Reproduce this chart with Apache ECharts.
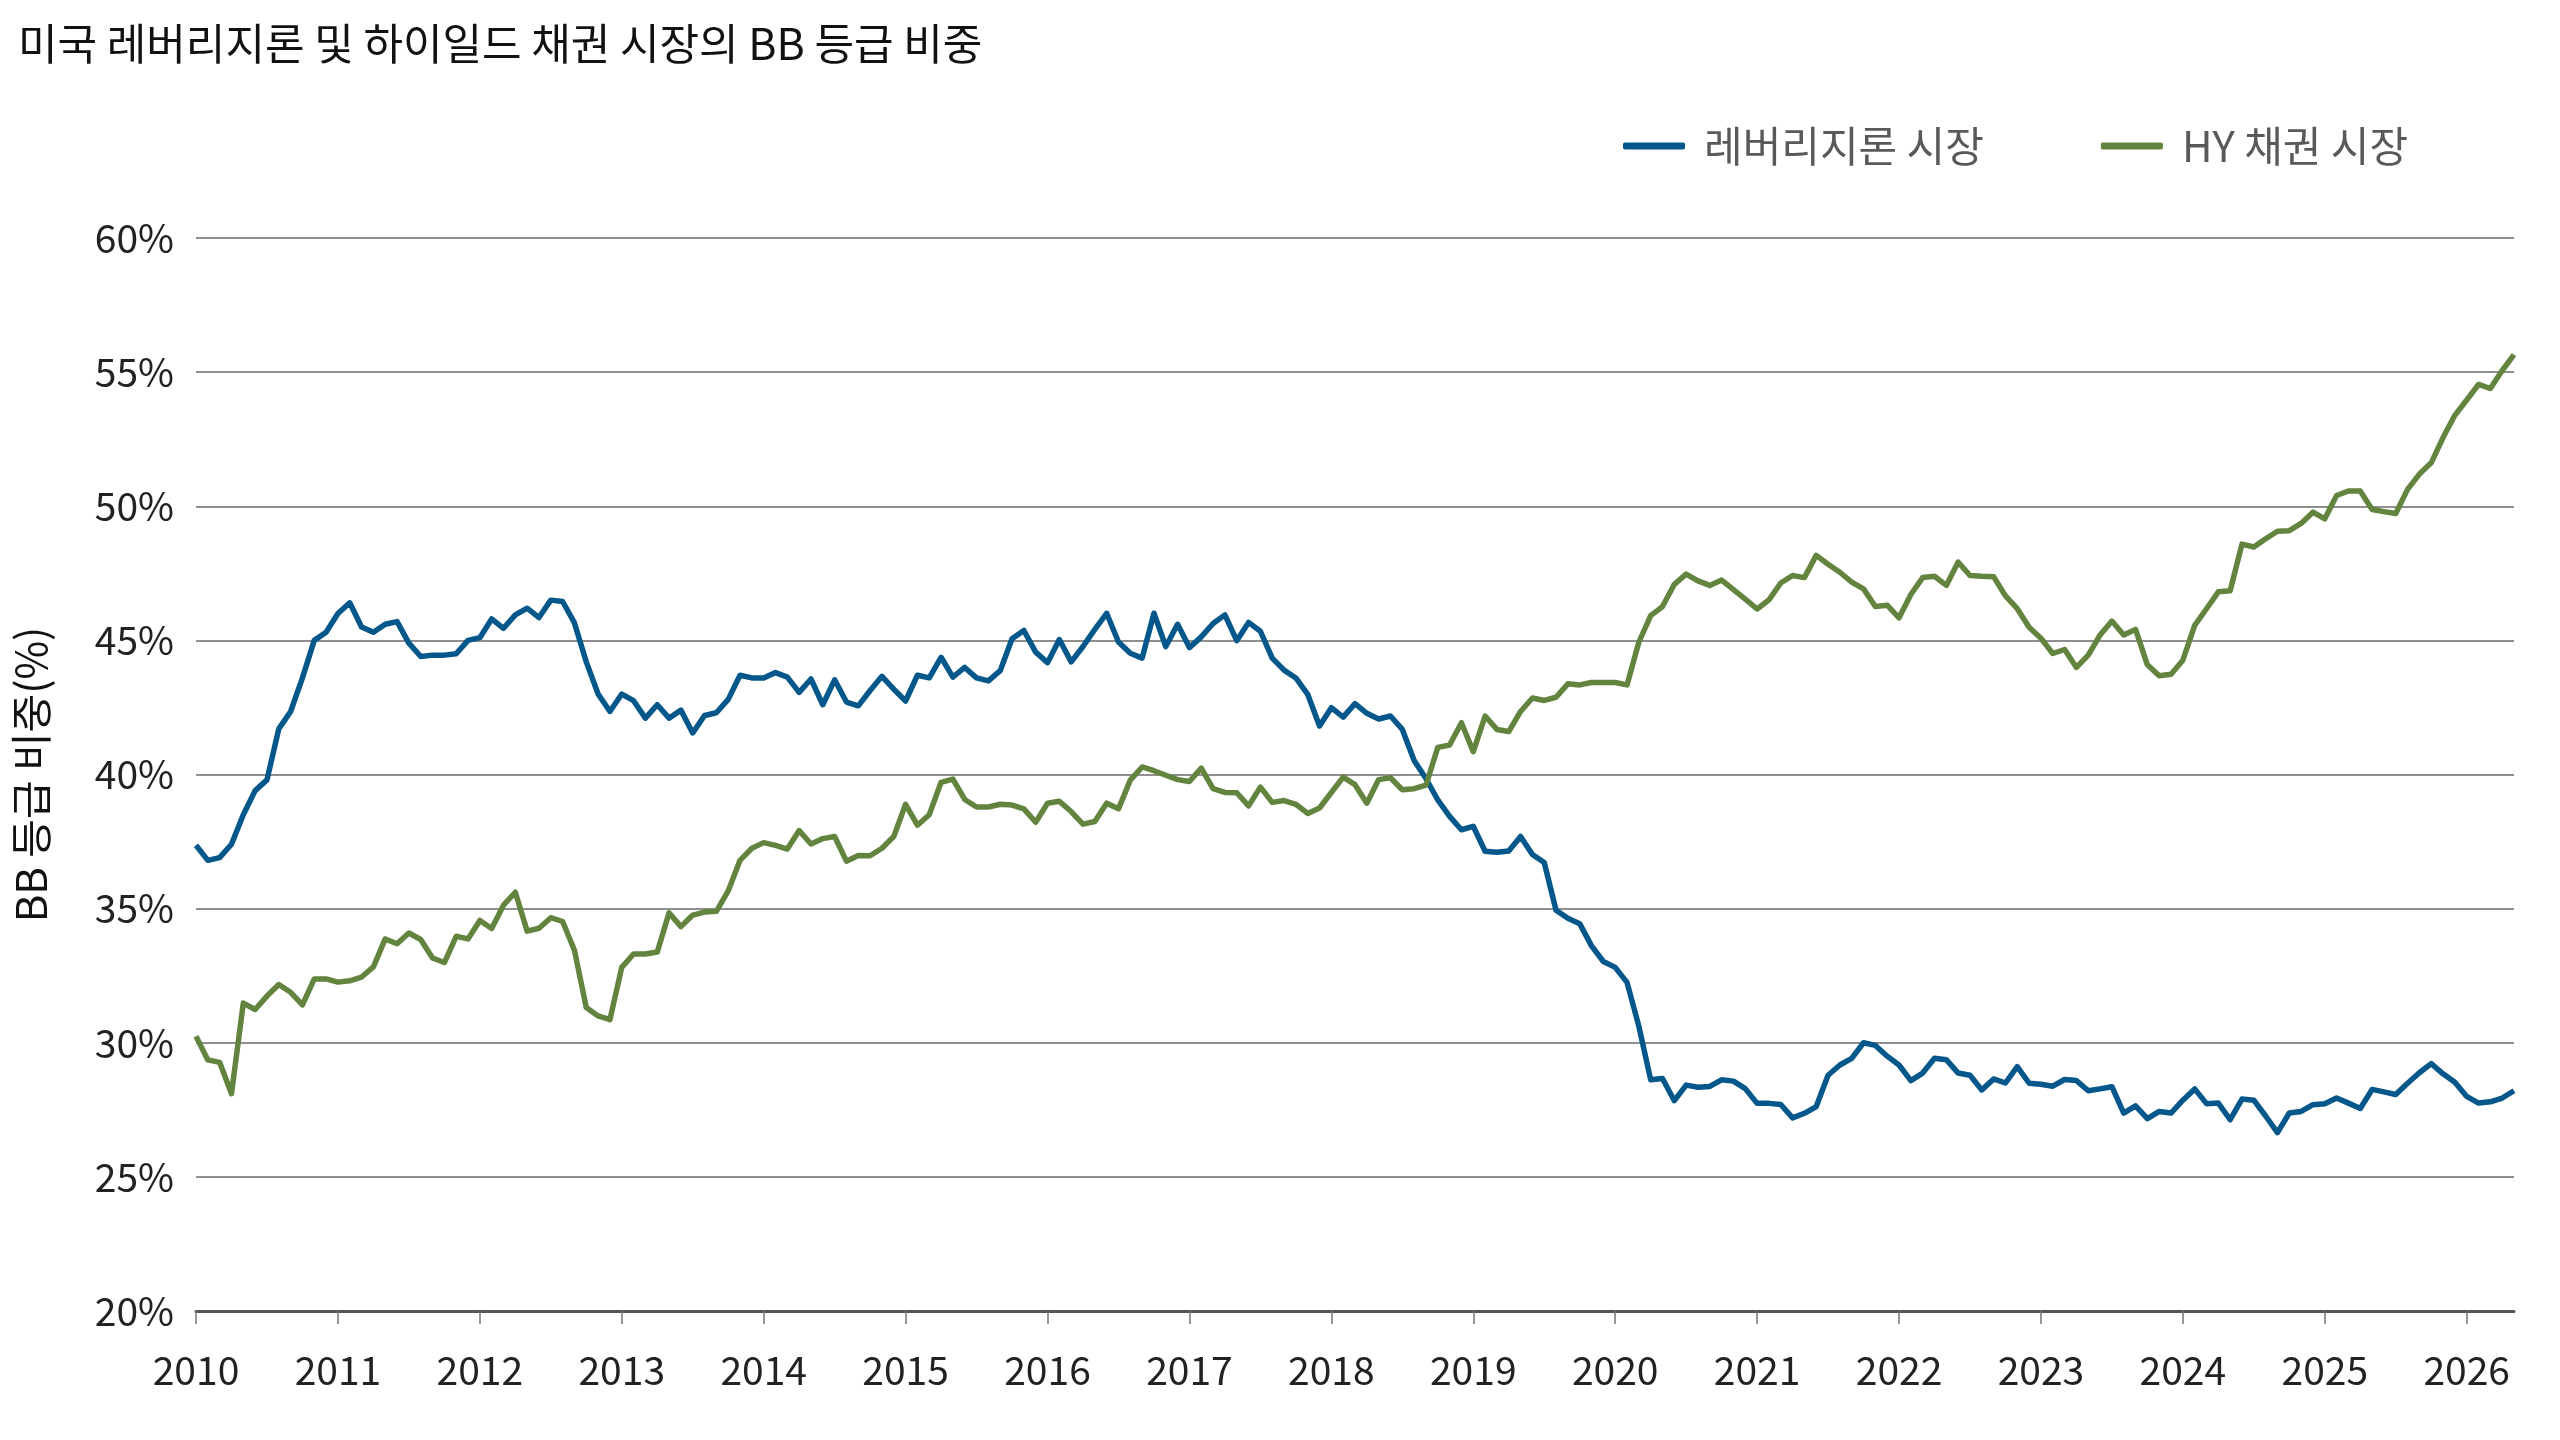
<!DOCTYPE html>
<html>
<head>
<meta charset="utf-8">
<script src="https://cdn.jsdelivr.net/npm/echarts@6/dist/echarts.min.js"></script>
<style>
html,body{margin:0;padding:0;background:#fff;}
#chart{width:2560px;height:1440px;}
</style>
</head>
<body>
<div id="chart"></div>
<script>
// Monthly observations, Jan 2010 onward
const startYear = 2010;
const leveragedLoan = [
 37.36, 36.8, 36.9, 37.4, 38.5, 39.4, 39.8, 41.7, 42.35, 43.6,
 45.0, 45.3, 46.0, 46.4, 45.5, 45.3, 45.6, 45.7, 44.9, 44.4,
 44.45, 44.45, 44.5, 45.0, 45.1, 45.8, 45.45, 45.95, 46.2, 45.85,
 46.5, 46.45, 45.65, 44.2, 43.0, 42.35, 43.0, 42.75, 42.1, 42.6,
 42.1, 42.4, 41.55, 42.2, 42.3, 42.8, 43.7, 43.6, 43.6, 43.8,
 43.63, 43.06, 43.56, 42.6, 43.53, 42.7, 42.56, 43.13, 43.66, 43.18,
 42.74, 43.7, 43.6, 44.37, 43.63, 43.99, 43.6, 43.49, 43.87, 45.06,
 45.37, 44.56, 44.17, 45.03, 44.2, 44.77, 45.41, 46.01, 44.94, 44.52,
 44.34, 46.01, 44.77, 45.6, 44.73, 45.13, 45.63, 45.95, 44.99, 45.67,
 45.34, 44.34, 43.89, 43.6, 42.99, 41.81, 42.49, 42.14, 42.64, 42.28,
 42.07,
 42.18, 41.68, 40.52, 39.85, 39.05, 38.44, 37.94, 38.07, 37.14, 37.1,
 37.15, 37.69, 37.02, 36.72, 34.94, 34.64, 34.44, 33.61, 33.03, 32.81,
 32.25, 30.62, 28.62, 28.67, 27.84, 28.42, 28.34, 28.37, 28.62, 28.57,
 28.29, 27.74, 27.74, 27.7, 27.2, 27.37, 27.62, 28.79, 29.17, 29.42,
 30.0, 29.9, 29.5, 29.17, 28.59, 28.87, 29.42, 29.37, 28.87, 28.79,
 28.24,
 28.65, 28.5, 29.11, 28.49, 28.45, 28.38, 28.63, 28.59, 28.21, 28.28,
 28.36, 27.38, 27.65, 27.17, 27.44, 27.38, 27.86, 28.28, 27.73, 27.75,
 27.13, 27.9, 27.86, 27.27, 26.65, 27.38, 27.44, 27.69, 27.73, 27.94,
 27.75, 27.55, 28.26, 28.17, 28.07, 28.49, 28.88, 29.22, 28.84, 28.53,
 28.0, 27.75, 27.8, 27.94, 28.21
];
const highYield = [
 30.24, 29.36, 29.27, 28.1, 31.48, 31.24, 31.74, 32.17, 31.88, 31.41,
 32.38, 32.38, 32.26, 32.31, 32.45, 32.83, 33.87, 33.69, 34.09, 33.85,
 33.16, 32.99, 33.97, 33.87, 34.56, 34.26, 35.13, 35.61, 34.16, 34.27,
 34.66, 34.52, 33.45, 31.31, 31.0, 30.86, 32.81, 33.31, 33.31, 33.38,
 34.84, 34.33, 34.76, 34.87, 34.9, 35.66, 36.8, 37.25, 37.46, 37.36,
 37.22, 37.91, 37.41, 37.61, 37.69, 36.77, 36.98, 36.97, 37.25, 37.69,
 38.89, 38.11, 38.5, 39.71, 39.83, 39.07, 38.79, 38.79, 38.89, 38.86,
 38.72, 38.22, 38.93, 39.0, 38.62, 38.15, 38.25, 38.93, 38.72, 39.79,
 40.28, 40.14, 39.97, 39.81, 39.74, 40.24, 39.47, 39.33, 39.32, 38.83,
 39.53, 38.96, 39.03, 38.89, 38.55, 38.75, 39.33, 39.9, 39.62, 38.93,
 39.81,
 39.88, 39.43, 39.47, 39.6, 41.01, 41.1, 41.93, 40.85, 42.18, 41.68,
 41.6, 42.35, 42.85, 42.76, 42.88, 43.38, 43.34, 43.43, 43.43, 43.43,
 43.34, 44.93, 45.92, 46.26, 47.09, 47.47, 47.22, 47.05, 47.25, 46.89,
 46.54, 46.17, 46.51, 47.14, 47.42, 47.34, 48.17, 47.84, 47.54, 47.17,
 46.92, 46.26, 46.31, 45.84, 46.71, 47.34, 47.39, 47.05, 47.92, 47.42,
 47.39,
 47.37, 46.66, 46.18, 45.49, 45.08, 44.51, 44.66, 43.99, 44.45, 45.2,
 45.72, 45.2, 45.41, 44.09, 43.68, 43.74, 44.26, 45.56, 46.18, 46.81,
 46.85, 48.59, 48.48, 48.79, 49.07, 49.09, 49.36, 49.78, 49.53, 50.4,
 50.57, 50.57, 49.88, 49.8, 49.73, 50.63, 51.2, 51.62, 52.56, 53.39,
 53.96, 54.54, 54.39, 55.06, 55.65
];
const seriesNames = ['레버리지론 시장', 'HY 채권 시장'];
const titleText = '미국 레버리지론 및 하이일드 채권 시장의 BB 등급 비중';
const yAxisName = 'BB 등급 비중(%)';

// month categories (tick labels are the years)
const months = [];
for (let i = 0; i < leveragedLoan.length; i++) {
  const y = startYear + Math.floor(i / 12);
  const m = (i % 12) + 1;
  months.push(y + '-' + (m < 10 ? '0' + m : m));
}

const FONT = '"Noto Sans CJK KR", "Noto Sans", sans-serif';
const chart = echarts.init(document.getElementById('chart'), null, {renderer: 'canvas'});
chart.setOption({
  backgroundColor: '#ffffff',
  animation: false,
  textStyle: {fontFamily: FONT},
  title: {
    text: titleText,
    left: 18, top: 22, padding: 0,
    textStyle: {fontFamily: FONT, fontSize: 43, fontWeight: 'normal', color: '#111111'}
  },
  legend: {
    data: seriesNames,
    left: 1623, top: 125, padding: 0,
    icon: 'roundRect',
    itemWidth: 62, itemHeight: 7,
    itemGap: 117,
    textStyle: {fontFamily: FONT, fontSize: 42, color: '#595959', padding: [0, 0, 0, 14]}
  },
  grid: {left: 196, right: 46, top: 238, bottom: 129, containLabel: false, outerBoundsMode: 'none'},
  xAxis: {
    type: 'category',
    data: months,
    boundaryGap: false,
    axisLine: {lineStyle: {color: '#555555', width: 3}},
    axisTick: {
      interval: function (i) { return i % 12 === 0; },
      length: 13,
      lineStyle: {color: '#777777', width: 1.5}
    },
    axisLabel: {
      interval: function (i) { return i % 12 === 0; },
      formatter: function (v) { return v.slice(0, 4); },
      fontFamily: FONT, fontSize: 39, color: '#222222', margin: 40
    },
    splitLine: {show: false}
  },
  yAxis: {
    type: 'value',
    min: 20, max: 60, interval: 5,
    name: yAxisName,
    nameLocation: 'middle',
    nameRotate: 90,
    nameGap: 144,
    nameTextStyle: {fontFamily: FONT, fontSize: 42, color: '#111111'},
    axisLine: {show: false},
    axisTick: {show: false},
    axisLabel: {formatter: '{value}%', fontFamily: FONT, fontSize: 39, color: '#222222', margin: 22},
    splitLine: {lineStyle: {color: '#6a6a6a', width: 1.6}}
  },
  series: [
    {
      name: seriesNames[0], type: 'line', data: leveragedLoan,
      symbol: 'none', color: '#03578a',
      lineStyle: {width: 5.5, color: '#03578a', join: 'round'}
    },
    {
      name: seriesNames[1], type: 'line', data: highYield,
      symbol: 'none', color: '#62843f',
      lineStyle: {width: 5.5, color: '#62843f', join: 'round'}
    }
  ]
});
</script>
</body>
</html>
